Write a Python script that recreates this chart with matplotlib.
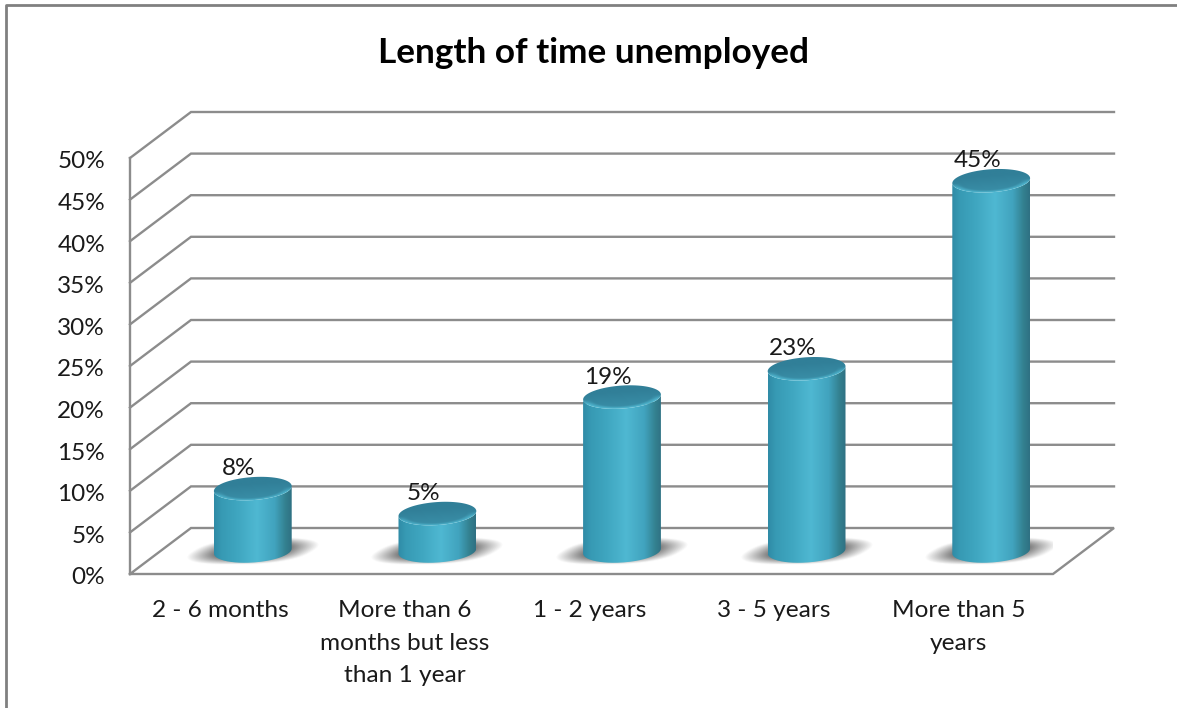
#!/usr/bin/env python3
import numpy as np
import matplotlib

matplotlib.use("Agg")
import matplotlib.pyplot as plt
from matplotlib.colors import LinearSegmentedColormap, to_rgb
from matplotlib.lines import Line2D
from matplotlib.patches import PathPatch
from matplotlib.path import Path
from matplotlib.transforms import ScaledTranslation

OUT = "out.png"
W, H = 1177, 708

CATEGORIES = ["2 - 6 months", "More than 6\nmonths but less\nthan 1 year", "1 - 2 years",
              "3 - 5 years", "More than 5\nyears"]
BAR_HEIGHTS = [7.5, 4.5, 18.5, 21.9, 44.5]
BAR_LABELS = ["8%", "5%", "19%", "23%", "45%"]
Y_TICKS = [0, 5, 10, 15, 20, 25, 30, 35, 40, 45, 50]
Y_TICK_LABELS = ["0%", "5%", "10%", "15%", "20%", "25%", "30%", "35%", "40%", "45%", "50%"]
TITLE = "Length of time unemployed"

# front plane of the fake 3d box, in pixels
LEFT, RIGHT, BOTTOM, TOP = 130, 1053, 574, 158
DEPTH_X, DEPTH_Y = 61, 46
GRID = "#8c8c8c"
TEXT = "#1a1a1a"
FONT = "Lato"

body_cmap = LinearSegmentedColormap.from_list("body", [
    (0.0, "#2f8ba6"), (0.1, "#379ab4"), (0.3, "#3fa6c0"), (0.55, "#4fb8d2"), (0.78, "#41a3be"),
    (0.92, "#33808f"), (1.0, "#2f7083")])


def main():
    plt.rcParams["font.family"] = [FONT, "DejaVu Sans"]
    fig = plt.figure(figsize=(W / 100, H / 100), dpi=100)
    ax = fig.add_axes([LEFT / W, 1 - BOTTOM / H, (RIGHT - LEFT) / W, (BOTTOM - TOP) / H])
    ax.set_xlim(0, len(CATEGORIES))
    ax.set_ylim(0, 50)
    ax.patch.set_alpha(0)
    for s in ax.spines.values():
        s.set_visible(False)

    # size of one pixel in data units
    px = len(CATEGORIES) / (RIGHT - LEFT)
    py = 50 / (BOTTOM - TOP)
    dx, dy = DEPTH_X * px, DEPTH_Y * py
    n = len(CATEGORIES)

    # walls and floor
    line = dict(color=GRID, lw=1.7, clip_on=False, zorder=1, solid_joinstyle="miter")
    for v in Y_TICKS:
        if v == 0:
            continue
        ax.plot([0, dx, n + dx], [v, v + dy, v + dy], **line)
    ax.plot([0, 0], [0, 50], **line)
    ax.plot([0, dx, n + dx, n, 0], [0, dy, dy, 0, 0], **line)

    def ellipse(cx, cy, a, b, rot, t0=0.0, t1=2 * np.pi, num=80):
        t = np.linspace(t0, t1, num)
        ex = a * np.cos(t) * np.cos(rot) - b * np.sin(t) * np.sin(rot)
        ey = a * np.cos(t) * np.sin(rot) + b * np.sin(t) * np.cos(rot)
        return np.column_stack([cx + ex * px, cy + ey * py])

    a, b, rot = 39, 11.5, np.radians(4)
    for i, h in enumerate(BAR_HEIGHTS):
        cx = i + 0.5 + dx / 2
        cy = dy / 2

        # blurred floor shadow
        u, v = np.meshgrid(np.linspace(-80, 80, 161), np.linspace(18, -18, 37))
        us = u - v * 1.5
        d = ((np.abs(us) / 54) ** 2.5 + (np.abs(v) / 12.5) ** 2.5) ** (1 / 2.5)
        rgba = np.zeros(u.shape + (4,))
        rgba[..., :3] = 0.33
        rgba[..., 3] = np.clip((1.12 - d) / 0.5, 0, 1) * 0.8
        ax.imshow(rgba, extent=[cx - 80 * px, cx + 80 * px, cy - 18 * py, cy + 18 * py],
                  aspect="auto", zorder=2, interpolation="bilinear")

        # cylinder body
        low_base = ellipse(cx, cy, a, b, rot, np.pi, 2 * np.pi)
        low_top = ellipse(cx, h + cy, a, b, rot, 2 * np.pi, np.pi)
        clip = PathPatch(Path(np.vstack([low_base, low_top])), transform=ax.transData)
        grad = np.linspace(0, 1, 256).reshape(1, -1)
        im = ax.imshow(grad, cmap=body_cmap, extent=[cx - a * px, cx + a * px, cy - 15 * py, h + cy + 15 * py],
                       aspect="auto", zorder=3, interpolation="bilinear")
        im.set_clip_path(clip)

        # cylinder cap, darker with a light front rim
        u, v = np.meshgrid(np.linspace(-42, 42, 169), np.linspace(16, -16, 65))
        ur = u * np.cos(rot) + v * np.sin(rot)
        vr = -u * np.sin(rot) + v * np.cos(rot)
        r = np.sqrt((ur / a) ** 2 + (vr / b) ** 2)
        dark, mid, light = [np.array(to_rgb(c)) for c in ("#317f98", "#3a8fa8", "#52bad3")]
        w = np.clip((0.5 - vr / b) / 1.5, 0, 1)[..., None]
        cap = dark * (1 - w) + mid * w
        rim = (np.clip((r - 0.78) / 0.22, 0, 1) * np.clip(-vr / b * 2.5, 0, 1))[..., None]
        cap = cap * (1 - rim) + light * rim
        clip = PathPatch(Path(ellipse(cx, h + cy, a, b, rot)), transform=ax.transData)
        im = ax.imshow(cap, extent=[cx - 42 * px, cx + 42 * px, h + cy - 16 * py, h + cy + 16 * py],
                       aspect="auto", zorder=4, interpolation="bilinear")
        im.set_clip_path(clip)

        ax.annotate(BAR_LABELS[i], (cx, h + cy), xytext=(-14 * 0.72, 20 * 0.72), textcoords="offset points",
                    ha="center", va="center", fontsize=17.5, color=TEXT, zorder=5, annotation_clip=False)

    ax.set_xlim(0, n)
    ax.set_ylim(0, 50)
    ax.set_yticks(Y_TICKS)
    ax.set_yticklabels(Y_TICK_LABELS, fontsize=17.5, color=TEXT)
    ax.set_xticks([i + 0.5 for i in range(n)])
    ax.set_xticklabels(CATEGORIES, fontsize=17.6, color=TEXT, linespacing=1.66)
    ax.tick_params(axis="y", length=0, pad=18)
    ax.tick_params(axis="x", length=0, pad=19)
    shift = ScaledTranslation(0, -2 / 100, fig.dpi_scale_trans)
    for lbl in ax.get_yticklabels():
        lbl.set_transform(lbl.get_transform() + shift)
    shift = ScaledTranslation(-2 / 100, 0, fig.dpi_scale_trans)
    for lbl in ax.get_xticklabels():
        lbl.set_transform(lbl.get_transform() + shift)

    # chart frame, only top and left are inside the picture
    fig.add_artist(Line2D([6 / W, 6 / W, 1], [0, 1 - 5 / H, 1 - 5 / H], color="#808080", lw=2))
    fig.text(593 / W, 1 - 53 / H, TITLE, ha="center", va="center", fontsize=25.3, fontweight="bold", color="#000000")

    fig.savefig(OUT, dpi=100)
    plt.close(fig)
    print(f"Wrote {OUT}")


if __name__ == "__main__":
    main()
